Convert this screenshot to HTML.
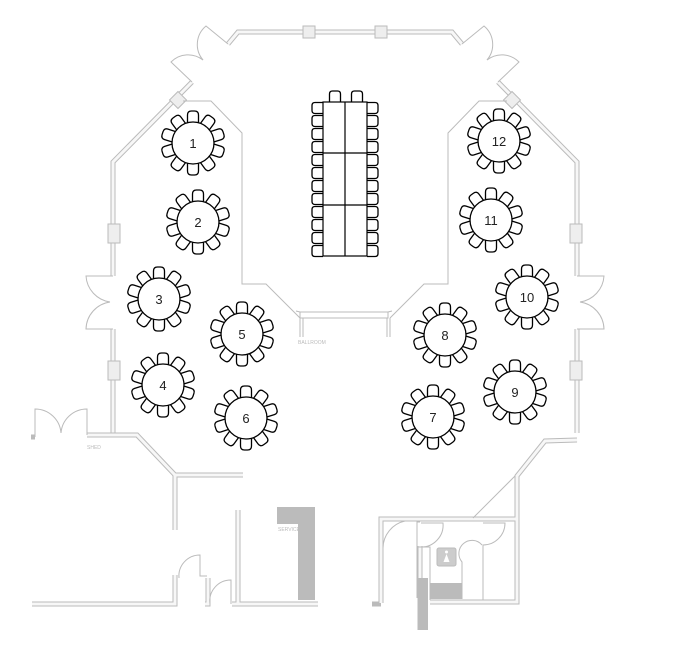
<!DOCTYPE html>
<html><head><meta charset="utf-8"><style>html,body{margin:0;padding:0;background:#fff}svg{display:block}</style></head>
<body>
<svg width="681" height="660" viewBox="0 0 681 660" xmlns="http://www.w3.org/2000/svg">
<defs>
<g id="ch"><path d="M-5.5,-20 L-5.5,-28 Q-5.5,-32 -1.5,-32 L1.5,-32 Q5.5,-32 5.5,-28 L5.5,-20" fill="#fff" stroke="#000" stroke-width="1.3"/></g>
<g id="rt">
<use href="#ch"/><use href="#ch" transform="rotate(36)"/><use href="#ch" transform="rotate(72)"/><use href="#ch" transform="rotate(108)"/><use href="#ch" transform="rotate(144)"/><use href="#ch" transform="rotate(180)"/><use href="#ch" transform="rotate(216)"/><use href="#ch" transform="rotate(252)"/><use href="#ch" transform="rotate(288)"/><use href="#ch" transform="rotate(324)"/>
<circle r="21" fill="#fff" stroke="#000" stroke-width="1.3"/>
</g>
<g id="wl"><path d="M-5.5,0 L-5.5,-8 Q-5.5,-11 -2.5,-11 L2.5,-11 Q5.5,-11 5.5,-8 L5.5,0" fill="#fff" stroke="#000" stroke-width="1.3"/></g>
<g id="half">
<g fill="none" stroke="#bbb" stroke-width="5">
<path d="M345,32 L238,32 L228,44"/>
<path d="M192,82 L113,162 L113,276"/>
<path d="M113,329 L113,433"/>
</g>
<g fill="none" stroke="#f7f7f7" stroke-width="3">
<path d="M345,32 L238,32 L228,44"/>
<path d="M192,82 L113,162 L113,276"/>
<path d="M113,329 L113,433"/>
</g>
<g fill="#eee" stroke="#bbb" stroke-width="1">
<rect x="303" y="26" width="12" height="12"/>
<rect x="108" y="224" width="12" height="19"/>
<rect x="108" y="361" width="12" height="19"/>
<rect x="172" y="94" width="12" height="12" transform="rotate(45 178 100)"/>
</g>
<g fill="none" stroke="#bbb" stroke-width="1">
<path d="M228,44 L206,26 A24,24 0 0 0 203,60"/>
<path d="M192,82 L171,62 A24,24 0 0 1 203,60"/>
<path d="M113,276 L86,276 A28,28 0 0 0 110,302"/>
<path d="M113,329 L86,329 A28,28 0 0 1 110,302"/>
</g>
<path d="M183,101 L211,101 L242,133 L242,284 L266,284 L300,318" fill="none" stroke="#bbb" stroke-width="1"/>
</g>
</defs>
<use href="#half"/>
<use href="#half" transform="translate(690,0) scale(-1,1)"/>
<g fill="none" stroke="#bbb" stroke-width="1">
<path d="M300,312 L388,312 L388,318 L300,318 Z"/>
<path d="M300,318 L300,337 M303,318 L303,337 M387,318 L387,337 M390,318 L390,337"/>
<path d="M296,311 L300,312 M392,311 L388,312"/>
</g>
<text x="298" y="344" font-family="Liberation Sans, sans-serif" font-size="5" fill="#bbb">BALLROOM</text>

<g fill="none" stroke="#bbb" stroke-width="5">
<path d="M87,435 L137,435 L175,475 L243,475"/>
<path d="M175,475 L175,530"/>
<path d="M32,604 L175,604 L175,575"/>
<path d="M205,604 L208,604 L208,578"/>
<path d="M232,604 L318,604"/>
<path d="M238,604 L238,510"/>
<path d="M31,437 L35,437"/>
</g>
<g fill="none" stroke="#f7f7f7" stroke-width="3">
<path d="M87,435 L137,435 L175,475 L243,475"/>
<path d="M175,475 L175,530"/>
<path d="M32,604 L175,604 L175,575"/>
<path d="M205,604 L208,604 L208,578"/>
<path d="M232,604 L318,604"/>
<path d="M238,604 L238,510"/>
</g>
<g fill="none" stroke="#bbb" stroke-width="1">
<path d="M35,437 L35,409 A26,26 0 0 1 61,433"/>
<path d="M87,435 L87,409 A26,26 0 0 0 61,433"/>
<path d="M179,578 A21,21 0 0 1 200,555 L200,576 L207,576"/>
<path d="M210,604 A21,21 0 0 1 231,580 L231,604"/>
</g>
<path d="M277,507 L315,507 L315,600 L298,600 L298,524 L277,524 Z" fill="#bbb"/>
<text x="278" y="531" font-family="Liberation Sans, sans-serif" font-size="5" fill="#bbb">SERVICE</text>
<text x="87" y="449" font-family="Liberation Sans, sans-serif" font-size="5" fill="#bbb">SHED</text>

<g fill="none" stroke="#bbb" stroke-width="5">
<path d="M577,440 L545,441 L517,476 L517,602 L430,602"/>
<path d="M381,603 L381,519 L517,519"/>
<path d="M372,604 L381,604"/>
<path d="M420,630 L420,546"/>
</g>
<g fill="none" stroke="#f7f7f7" stroke-width="3">
<path d="M577,440 L545,441 L517,476 L517,602 L430,602"/>
<path d="M381,603 L381,519 L517,519"/>
<path d="M420,630 L420,546"/>
</g>
<g fill="none" stroke="#bbb" stroke-width="1">
<path d="M515,476 L473,518"/>
<path d="M417,598 L417,547 L430,547 L430,600"/>
<path d="M417,547 L417,522 L420,522"/>
<path d="M383,548 A28,28 0 0 1 405,521"/>
<path d="M420,547 A22,22 0 0 0 443,523 L421,523"/>
<path d="M483,523 L505,523 A22,22 0 0 1 483,545 L483,600"/>
<path d="M462,599 L462,562 A13,13 0 0 1 482,545"/>
</g>
<rect x="418" y="578" width="10" height="52" fill="#bbb"/>
<rect x="430" y="583" width="32" height="16" fill="#bbb"/>
<rect x="437" y="548" width="19" height="18" rx="2" fill="#ccc" stroke="#bbb"/>
<circle cx="446.5" cy="552" r="1.5" fill="#fff"/>
<path d="M446.5,554 L443.5,562 L449.5,562 Z" fill="#fff"/>

<g stroke="#000" stroke-width="1.2" fill="#fff">
<use href="#wl" transform="translate(335,102)"/><use href="#wl" transform="translate(357,102)"/>
<g id="lc">
<use href="#wl" transform="translate(323,108) rotate(-90)"/>
<use href="#wl" transform="translate(323,121) rotate(-90)"/>
<use href="#wl" transform="translate(323,134) rotate(-90)"/>
<use href="#wl" transform="translate(323,147) rotate(-90)"/>
<use href="#wl" transform="translate(323,160) rotate(-90)"/>
<use href="#wl" transform="translate(323,173) rotate(-90)"/>
<use href="#wl" transform="translate(323,186) rotate(-90)"/>
<use href="#wl" transform="translate(323,199) rotate(-90)"/>
<use href="#wl" transform="translate(323,212) rotate(-90)"/>
<use href="#wl" transform="translate(323,225) rotate(-90)"/>
<use href="#wl" transform="translate(323,238) rotate(-90)"/>
<use href="#wl" transform="translate(323,251) rotate(-90)"/>
</g>
<use href="#lc" transform="translate(690,0) scale(-1,1)"/>
<rect x="323" y="102" width="44" height="154" fill="#fff"/>
<path d="M345,102 L345,256 M323,153 L367,153 M323,205 L367,205" fill="none"/>
</g>

<use href="#rt" transform="translate(193,143)"/>
<use href="#rt" transform="translate(198,222)"/>
<use href="#rt" transform="translate(159,299)"/>
<use href="#rt" transform="translate(163,385)"/>
<use href="#rt" transform="translate(242,334)"/>
<use href="#rt" transform="translate(246,418)"/>
<use href="#rt" transform="translate(433,417)"/>
<use href="#rt" transform="translate(445,335)"/>
<use href="#rt" transform="translate(515,392)"/>
<use href="#rt" transform="translate(527,297)"/>
<use href="#rt" transform="translate(491,220)"/>
<use href="#rt" transform="translate(499,141)"/>
<g font-family="Liberation Sans, sans-serif" font-size="13" fill="#222" text-anchor="middle">
<text x="193" y="148">1</text>
<text x="198" y="227">2</text>
<text x="159" y="304">3</text>
<text x="163" y="390">4</text>
<text x="242" y="339">5</text>
<text x="246" y="423">6</text>
<text x="433" y="422">7</text>
<text x="445" y="340">8</text>
<text x="515" y="397">9</text>
<text x="527" y="302">10</text>
<text x="491" y="225">11</text>
<text x="499" y="146">12</text>
</g>
</svg>
</body></html>
